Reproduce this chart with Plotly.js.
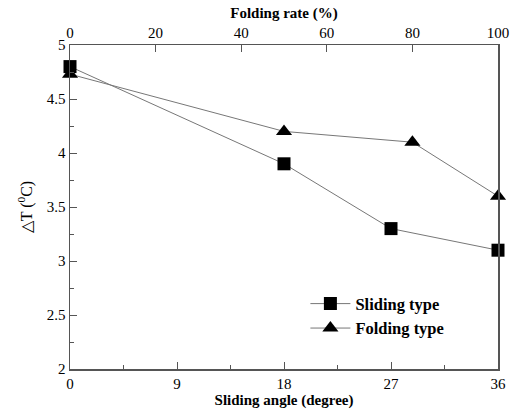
<!DOCTYPE html>
<html>
<head>
<meta charset="utf-8">
<script src="https://cdn.plot.ly/plotly-3.0.1.min.js"></script>
<style>html,body{margin:0;padding:0;background:#fff;}</style>
</head>
<body>
<div id="chart" style="width:516px;height:412px;"></div>
<script>
// Sliding type (bottom axis: sliding angle, degree)
const slidingAngle = [0, 18, 27, 36];
const slidingDT = [4.8, 3.9, 3.3, 3.1];
// Folding type (top axis: folding rate, %)
const foldingRate = [0, 50, 80, 100];
const foldingDT = [4.73, 4.2, 4.1, 3.6];

const bottomTicks = [0, 9, 18, 27, 36];
const topTicks = [0, 20, 40, 60, 80, 100];
const yTicks = [2, 2.5, 3, 3.5, 4, 4.5, 5];

const serif = "Liberation Serif, Times New Roman, serif";
const axisColor = "#555";

const traces = [
  {
    x: slidingAngle, y: slidingDT, xaxis: "x", yaxis: "y",
    name: "<b>Sliding type</b>", mode: "lines+markers",
    line: {color: "#777", width: 1},
    marker: {symbol: "square", size: 13, color: "#000"},
    cliponaxis: false
  },
  {
    x: foldingRate, y: foldingDT, xaxis: "x2", yaxis: "y",
    name: "<b>Folding type</b>", mode: "lines+markers",
    line: {color: "#777", width: 1},
    marker: {symbol: "triangle-up", size: 14, color: "#000"},
    cliponaxis: false
  }
];

const layout = {
  width: 516, height: 412,
  margin: {l: 70, r: 18, t: 45, b: 43},
  paper_bgcolor: "#fff", plot_bgcolor: "#fff",
  font: {family: serif, size: 15, color: "#000"},
  showlegend: true,
  legend: {
    x: 0.55, y: 0.255, xanchor: "left", yanchor: "top",
    bgcolor: "rgba(0,0,0,0)", font: {family: serif, size: 16.5, color: "#000"},
    tracegroupgap: 0, itemwidth: 40
  },
  xaxis: {
    range: [0, 36], tickvals: bottomTicks, ticktext: bottomTicks.map(String),
    showgrid: false, zeroline: false, showline: true, linecolor: axisColor, linewidth: 1.5,
    ticks: "inside", ticklen: 7, tickcolor: axisColor, tickwidth: 1,
    minor: {dtick: 4.5, ticks: "inside", ticklen: 4, tickcolor: axisColor, tickwidth: 1},
    tickfont: {family: serif, size: 15, color: "#000"},
    title: {text: "<b>Sliding angle (degree)</b>", font: {family: serif, size: 15, color: "#000"}, standoff: 4},
    automargin: false
  },
  xaxis2: {
    range: [0, 100], overlaying: "x", side: "top", anchor: "y",
    tickvals: topTicks, ticktext: topTicks.map(String),
    showgrid: false, zeroline: false, showline: true, linecolor: axisColor, linewidth: 1.5,
    ticks: "inside", ticklen: 7, tickcolor: axisColor, tickwidth: 1,
    tickfont: {family: serif, size: 15, color: "#000"},
    title: {text: "<b>Folding rate (%)</b>", font: {family: serif, size: 15, color: "#000"}, standoff: 2},
    automargin: false
  },
  yaxis: {
    range: [2, 5], tickvals: yTicks, ticktext: yTicks.map(String),
    showgrid: false, zeroline: false, showline: true, mirror: true, linecolor: axisColor, linewidth: 1.5,
    ticks: "inside", ticklen: 7, tickcolor: axisColor, tickwidth: 1,
    minor: {dtick: 0.25, ticks: "inside", ticklen: 4, tickcolor: axisColor, tickwidth: 1},
    tickfont: {family: serif, size: 15, color: "#000"},
    title: {text: "\u25B3T (<sup>0</sup>C)", font: {family: serif, size: 16, color: "#000"}, standoff: 10},
    automargin: false
  }
};

Plotly.newPlot("chart", traces, layout, {staticPlot: true, displayModeBar: false});
</script>
</body>
</html>
